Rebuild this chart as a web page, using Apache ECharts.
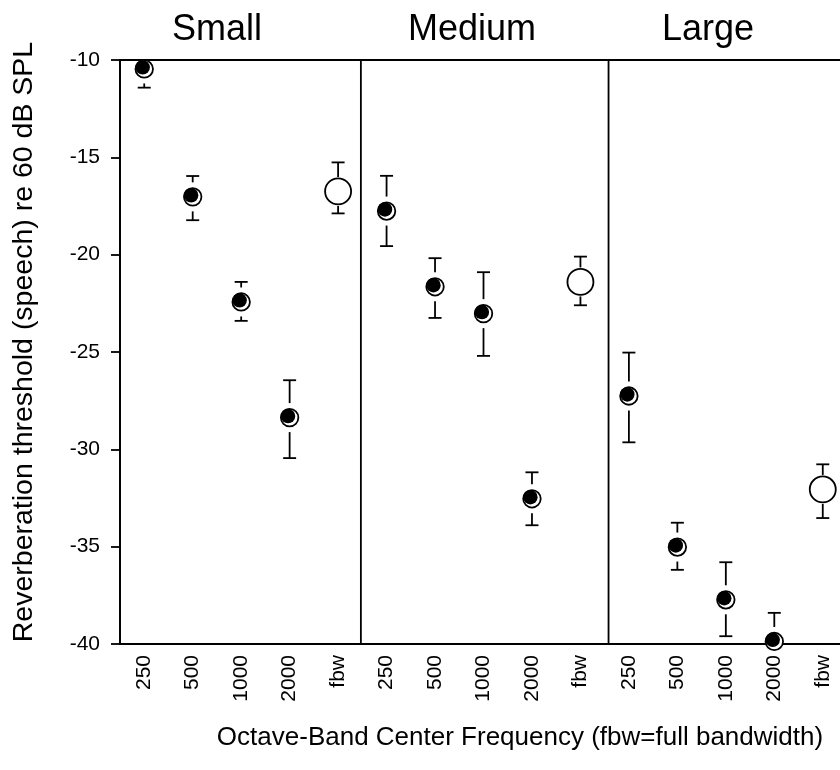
<!DOCTYPE html>
<html>
<head>
<meta charset="utf-8">
<script src="https://cdn.jsdelivr.net/npm/echarts@6/dist/echarts.min.js"></script>
<style>
  html, body { margin: 0; padding: 0; background: #fff; }
  #chart { width: 840px; height: 770px; }
</style>
</head>
<body>
<div id="chart"></div>
<script>
// Room sizes and octave bands (fbw = full bandwidth)
const rooms = ['Small', 'Medium', 'Large'];
const bands = ['250', '500', '1000', '2000', 'fbw'];

// Reverberation thresholds (dB re 60 dB SPL): mean, lower and upper error-bar ends
const smallMean  = [-10.46, -17.03, -22.43, -28.37, -16.75];
const smallLow   = [-11.42, -18.23, -23.40, -30.45, -17.88];
const smallHigh  = [-9.50, -15.96, -21.40, -26.45, -15.26];

const mediumMean = [-17.76, -21.65, -23.03, -32.54, -21.40];
const mediumLow  = [-19.56, -23.25, -25.20, -33.90, -22.60];
const mediumHigh = [-15.95, -20.18, -20.90, -31.18, -20.10];

const largeMean  = [-27.26, -35.02, -37.73, -39.87, -32.06];
const largeLow   = [-29.64, -36.19, -39.60, -41.30, -33.53];
const largeHigh  = [-25.03, -33.77, -35.80, -38.40, -30.77];

// Panel separators, in category units on the x axis
const panelBreaks = [4.47, 9.58];

// Y axis range
const yMin = -40, yMax = -10, yStep = 5;

// ---- build series data from the arrays above ----
const categories = [];
rooms.forEach(() => bands.forEach(b => categories.push(b)));

const groups = [
  [smallMean, smallLow, smallHigh],
  [mediumMean, mediumLow, mediumHigh],
  [largeMean, largeLow, largeHigh]
];

const errData = [];
const bandPoints = [];
const fullPoints = [];
groups.forEach((g, r) => {
  const [mean, low, high] = g;
  mean.forEach((m, i) => {
    const idx = r * bands.length + i;
    errData.push([idx, low[i], high[i], m]);
    if (bands[i] === 'fbw') fullPoints.push([idx, m]);
    else bandPoints.push([idx, m]);
  });
});

const FONT = '"Liberation Sans", Arial, Helvetica, sans-serif';
const LW = 1.8;

function renderErrorBar(params, api) {
  const x = api.value(0);
  const pLow = api.coord([x, api.value(1)]);
  const pHigh = api.coord([x, api.value(2)]);
  const pMean = api.coord([x, api.value(3)]);
  const gap = 14.5, capHalf = 6.5;
  const style = { stroke: '#000', lineWidth: LW, fill: null };
  const children = [];
  if (pMean[1] - pHigh[1] > gap) {
    children.push({ type: 'line', shape: { x1: pHigh[0], y1: pHigh[1], x2: pHigh[0], y2: pMean[1] - gap }, style });
    children.push({ type: 'line', shape: { x1: pHigh[0] - capHalf, y1: pHigh[1], x2: pHigh[0] + capHalf, y2: pHigh[1] }, style });
  }
  if (pLow[1] - pMean[1] > gap) {
    children.push({ type: 'line', shape: { x1: pLow[0], y1: pMean[1] + gap, x2: pLow[0], y2: pLow[1] }, style });
    children.push({ type: 'line', shape: { x1: pLow[0] - capHalf, y1: pLow[1], x2: pLow[0] + capHalf, y2: pLow[1] }, style });
  }
  return { type: 'group', children };
}

function renderBreak(params, api) {
  const top = api.coord([api.value(0), yMax]);
  const bottom = api.coord([api.value(0), yMin]);
  return {
    type: 'line',
    shape: { x1: top[0], y1: top[1], x2: bottom[0], y2: bottom[1] },
    style: { stroke: '#000', lineWidth: LW }
  };
}

const chart = echarts.init(document.getElementById('chart'), null, { renderer: 'canvas' });

const titleText = (text, x) => ({
  type: 'text', x, y: 30,
  style: { text, font: '36px ' + FONT, fill: '#000', textAlign: 'center', textVerticalAlign: 'middle' }
});

chart.setOption({
  animation: false,
  backgroundColor: '#fff',
  grid: {
    left: 120, top: 60, width: 727, height: 584,
    containLabel: false, outerBoundsMode: 'none',
    show: true, borderColor: '#000', borderWidth: LW, backgroundColor: 'transparent'
  },
  xAxis: [
    {
      type: 'category',
      data: categories,
      boundaryGap: true,
      axisLine: { onZero: false, lineStyle: { color: '#000', width: LW } },
      axisTick: { alignWithLabel: true, length: 8, lineStyle: { color: '#000', width: LW } },
      axisLabel: {
        rotate: 90, interval: 0, margin: 11, hideOverlap: false,
        color: '#000', fontSize: 21, fontFamily: FONT
      },
      splitLine: { show: false }
    },
    {
      type: 'value', min: -0.5, max: 14.5, show: false,
      axisLine: { onZero: false }
    }
  ],
  yAxis: {
    type: 'value',
    min: yMin, max: yMax, interval: yStep,
    axisLine: { show: true, onZero: false, lineStyle: { color: '#000', width: LW } },
    axisTick: { show: true, length: 9, lineStyle: { color: '#000', width: LW } },
    axisLabel: { margin: 20, color: '#000', fontSize: 21, fontFamily: FONT },
    splitLine: { show: false }
  },
  graphic: [
    titleText(rooms[0], 217),
    titleText(rooms[1], 472),
    titleText(rooms[2], 708),
    {
      type: 'text', x: 24, y: 342, rotation: Math.PI / 2,
      style: { text: 'Reverberation threshold (speech) re 60 dB SPL', font: '28.5px ' + FONT, fill: '#000', textAlign: 'center', textVerticalAlign: 'middle' }
    },
    {
      type: 'text', x: 520, y: 738,
      style: { text: 'Octave-Band Center Frequency (fbw=full bandwidth)', font: '26px ' + FONT, fill: '#000', textAlign: 'center', textVerticalAlign: 'middle' }
    }
  ],
  series: [
    {
      name: 'breaks', type: 'custom', xAxisIndex: 1,
      data: panelBreaks.map(v => [v]),
      renderItem: renderBreak, silent: true, z: 2
    },
    {
      name: 'error', type: 'custom', xAxisIndex: 0,
      data: errData, renderItem: renderErrorBar,
      clip: true, silent: true, z: 3
    },
    {
      name: 'band ring', type: 'scatter', data: bandPoints,
      symbol: 'circle', symbolSize: 17.5, clip: false, silent: true, z: 4,
      itemStyle: { color: '#fff', borderColor: '#000', borderWidth: LW, opacity: 1 }
    },
    {
      name: 'band fill', type: 'scatter', data: bandPoints,
      symbol: 'circle', symbolSize: 14.5, symbolOffset: [-1.6, -1.6], clip: false, silent: true, z: 5,
      itemStyle: { color: '#000', opacity: 1 }
    },
    {
      name: 'full bandwidth', type: 'scatter', data: fullPoints,
      symbol: 'circle', symbolSize: 26, clip: false, silent: true, z: 4,
      itemStyle: { color: '#fff', borderColor: '#000', borderWidth: LW, opacity: 1 }
    }
  ]
});
</script>
</body>
</html>
